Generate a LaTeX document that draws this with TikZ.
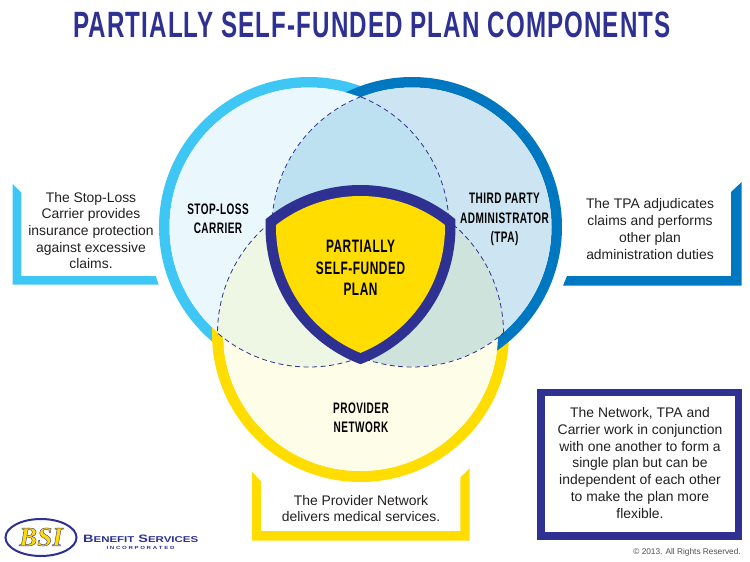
\documentclass[tikz,border=0pt]{standalone}
\usepackage{fontspec}
\setmainfont{Liberation Sans}
\newfontfamily\condfont[FakeStretch=0.66,LetterSpace=3]{Liberation Sans}
\newfontfamily\wideFont[FakeStretch=1.35]{Liberation Sans}
\newfontfamily\logofont{Liberation Serif}
\definecolor{navy}{HTML}{2E3192}
\definecolor{skyring}{HTML}{3EC6F4}
\definecolor{bluering}{HTML}{0078C1}
\definecolor{goldring}{HTML}{FFDD00}
\definecolor{skyfill}{HTML}{EAF8FE}
\definecolor{bluefill}{HTML}{CDE5F3}
\definecolor{goldfill}{HTML}{FEFDE7}
\definecolor{toplens}{HTML}{BDE1F1}
\definecolor{leftlens}{HTML}{EEF6E4}
\definecolor{rightlens}{HTML}{CFE3DD}
\definecolor{inktext}{HTML}{231F20}
\tikzset{
  bodytext/.style={align=center,text=inktext,font=\fontsize{13.9}{16.7}\selectfont},
  ringlabel/.style={align=center,text=black,font=\condfont\bfseries\fontsize{15.2}{19.2}\selectfont},
  lensline/.style={navy,line width=0.8pt,dash pattern=on 5pt off 3.5pt}
}
\begin{document}
\begin{tikzpicture}[x=1pt,y=-1pt]
    \useasboundingbox (0,0) rectangle (750,562);
    \coordinate (cstop) at (309,227);
    \coordinate (ctpa) at (412,227);
    \coordinate (cnet) at (360.5,333.5);
    \node[text=navy,font=\condfont\bfseries\fontsize{36.6}{36.6}\selectfont] (title) at (372,25){PARTIALLY SELF-FUNDED PLAN COMPONENTS};
    % callouts
    \fill[skyring] (12.7,184) -- (21.3,192.7) -- (21.3,276) -- (155.7,276) -- (158.7,284.7) -- (12.7,284.7) -- cycle;
    \fill[bluering] (741.7,182) -- (731,192) -- (731,276) -- (567,276) -- (563,285.7) -- (741.7,285.7) -- cycle;
    \fill[goldring] (252,471.7) -- (261,481.3) -- (261,531) -- (460.3,531) -- (460.3,477.7) -- (469.7,468) -- (469.7,540.7) -- (252,540.7) -- cycle;
    \draw[navy,line width=7.5pt,fill=white] (541.1,392.7) rectangle (738.5,535.8);
    % rings
    \draw[skyring,line width=10.5pt] (cstop) circle[radius=144.75pt];
    \draw[goldring,line width=11pt] (cnet) circle[radius=143pt];
    \draw[bluering,line width=10.5pt] (ctpa) circle[radius=144.75pt];
    \fill[skyfill] (cstop) circle[radius=139.5pt];
    \fill[bluefill] (ctpa) circle[radius=139.5pt];
    \fill[goldfill] (cnet) circle[radius=137.5pt];
    % overlaps
    \begin{scope}
        \clip (cstop) circle[radius=139.5pt];
        \fill[toplens] (ctpa) circle[radius=139.5pt];
        \fill[leftlens] (cnet) circle[radius=143pt];
    \end{scope}
    \begin{scope}
        \clip (ctpa) circle[radius=139.5pt];
        \fill[rightlens] (cnet) circle[radius=143pt];
    \end{scope}
    % dashed edges
    \begin{scope}
        \clip (ctpa) circle[radius=141pt];
        \draw[lensline] (cstop) circle[radius=140pt];
    \end{scope}
    \begin{scope}
        \clip (cnet) circle[radius=143.5pt];
        \draw[lensline] (cstop) circle[radius=140pt];
    \end{scope}
    \begin{scope}
        \clip (cstop) circle[radius=141pt];
        \draw[lensline] (ctpa) circle[radius=140pt];
    \end{scope}
    \begin{scope}
        \clip (cnet) circle[radius=143.5pt];
        \draw[lensline] (ctpa) circle[radius=140pt];
    \end{scope}
    \begin{scope}
        \clip (cstop) circle[radius=139.5pt];
        \draw[lensline] (cnet) circle[radius=143pt];
    \end{scope}
    \begin{scope}
        \clip (ctpa) circle[radius=139.5pt];
        \draw[lensline] (cnet) circle[radius=143pt];
    \end{scope}
    % shield
    \begin{scope}
        \clip (cstop) circle[radius=146.5pt];
        \clip (ctpa) circle[radius=146.5pt];
        \fill[navy] (cnet) circle[radius=148.5pt];
    \end{scope}
    \begin{scope}
        \clip (cstop) circle[radius=136pt];
        \clip (ctpa) circle[radius=136pt];
        \fill[goldring] (cnet) circle[radius=137.5pt];
    \end{scope}
    % labels
    \node[ringlabel] (stoplabel) at (218,219){STOP-LOSS\\CARRIER};
    \node[ringlabel] (tpalabel) at (504.5,219.5){THIRD PARTY\\ADMINISTRATOR\\(TPA)};
    \node[ringlabel] (netlabel) at (361,417.5){PROVIDER\\NETWORK};
    \node[ringlabel,font=\condfont\bfseries\fontsize{18}{21.5}\selectfont] (planlabel) at (360.5,268){PARTIALLY\\SELF-FUNDED\\PLAN};
    \node[bodytext] (stoptext) at (91,230.5){The Stop-Loss\\Carrier provides\\insurance protection\\against excessive\\claims.};
    \node[bodytext] (tpatext) at (650,229){The TPA adjudicates\\claims and performs\\other plan\\administration duties};
    \node[bodytext] (nettext) at (361,508.5){The Provider Network\\delivers medical services.};
    \node[bodytext] (boxtext) at (640,463){The Network, TPA and\\Carrier work in conjunction\\with one another to form a\\single plan but can be\\independent of each other\\to make the plan more\\flexible.};
    % logo
    \draw[navy,line width=2pt] (41,537.5) ellipse[x radius=35.5pt,y radius=18.5pt];
    \node[text=goldring,font=\logofont\bfseries\itshape\fontsize{27}{27}\selectfont] (bsi) at (41,537){\special{pdf:code 2 Tr 0.4 w 0.18 0.19 0.57 RG}BSI\special{pdf:code 0 Tr}};
    \node[text=navy,font=\wideFont\bfseries\fontsize{10.7}{10.7}\selectfont,anchor=west,inner sep=0pt] (bsiname) at (83,539){B{\fontsize{8.5}{10.7}\selectfont ENEFIT} S{\fontsize{8.5}{10.7}\selectfont ERVICES}};
    \node[text=navy,font=\wideFont\bfseries\fontsize{4.5}{4.5}\selectfont] (bsisub) at (140.5,547.5){I N C O R P O R A T E D};
    \node[text=inktext!80,font=\fontsize{8.3}{8.3}\selectfont,anchor=east,inner sep=0pt] (copy) at (741,552){© 2013. All Rights Reserved.};
\end{tikzpicture}
\end{document}
